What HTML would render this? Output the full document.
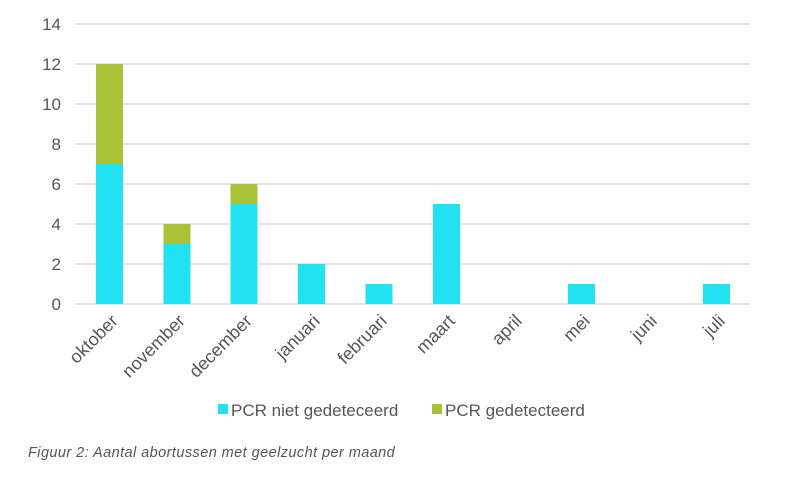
<!DOCTYPE html>
<html><head><meta charset="utf-8"><style>body{margin:0;background:#fff}svg{display:block}</style></head><body>
<svg width="800" height="482" xmlns="http://www.w3.org/2000/svg" font-family="Liberation Sans, sans-serif">
<g stroke="#dadada" stroke-width="1.5">
<line x1="76" x2="750" y1="24" y2="24"/><line x1="76" x2="750" y1="64" y2="64"/><line x1="76" x2="750" y1="104" y2="104"/><line x1="76" x2="750" y1="144" y2="144"/><line x1="76" x2="750" y1="184" y2="184"/><line x1="76" x2="750" y1="224" y2="224"/><line x1="76" x2="750" y1="264" y2="264"/><line x1="76" x2="750" y1="304" y2="304"/>
</g>
<g fill="#555" font-size="17" text-anchor="end">
<text x="61" y="30">14</text><text x="61" y="70">12</text><text x="61" y="110">10</text><text x="61" y="150">8</text><text x="61" y="190">6</text><text x="61" y="230">4</text><text x="61" y="270">2</text><text x="61" y="310">0</text>
</g>
<g fill="#22e1f1">
<rect x="96" y="164" width="27" height="140"/>
<rect x="163.5" y="244" width="27" height="60"/>
<rect x="230.5" y="204" width="27" height="100"/>
<rect x="298" y="264" width="27" height="40"/>
<rect x="365.5" y="284" width="27" height="20"/>
<rect x="433" y="204" width="27" height="100"/>
<rect x="568" y="284" width="27" height="20"/>
<rect x="703" y="284" width="27" height="20"/>
</g>
<g fill="#a9c238">
<rect x="96" y="64" width="27" height="100"/>
<rect x="163.5" y="224" width="27" height="20"/>
<rect x="230.5" y="184" width="27" height="20"/>
</g>
<g fill="#555" font-size="18" text-anchor="end">
<text transform="translate(119,322) rotate(-45)">oktober</text>
<text transform="translate(186,322) rotate(-45)">november</text>
<text transform="translate(253,322) rotate(-45)">december</text>
<text transform="translate(321,322) rotate(-45)">januari</text>
<text transform="translate(388,322) rotate(-45)">februari</text>
<text transform="translate(456,322) rotate(-45)">maart</text>
<text transform="translate(523,322) rotate(-45)">april</text>
<text transform="translate(591,322) rotate(-45)">mei</text>
<text transform="translate(658,322) rotate(-45)">juni</text>
<text transform="translate(726,322) rotate(-45)">juli</text>
</g>
<rect x="218" y="404" width="10" height="10" fill="#22e1f1"/>
<text x="231" y="416" font-size="17" fill="#555">PCR niet gedeteceerd</text>
<rect x="432" y="404" width="10" height="10" fill="#a9c238"/>
<text x="445" y="416" font-size="17" fill="#555">PCR gedetecteerd</text>
<text x="28" y="457" font-size="14.5" letter-spacing="0.43" font-style="italic" fill="#555">Figuur 2: Aantal abortussen met geelzucht per maand</text>
</svg>
</body></html>
